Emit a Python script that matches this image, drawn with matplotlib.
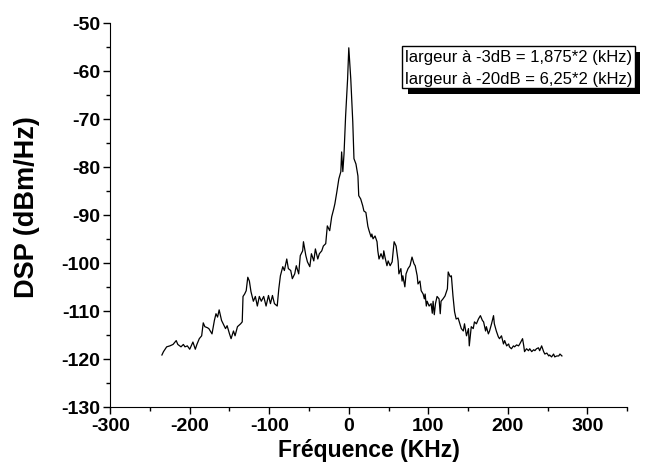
import matplotlib
matplotlib.use("Agg")
import matplotlib.pyplot as plt
import matplotlib.patheffects as pe
from matplotlib.ticker import MultipleLocator

plt.rcParams['font.family'] = ['Liberation Sans', 'DejaVu Sans']
plt.rcParams['axes.unicode_minus'] = False

# spectre (KHz, dBm/Hz)
freq = [-235, -233, -229, -225, -221, -217, -215, -211, -208, -206, -203, -200,
        -196, -193, -191, -188, -185, -183, -181, -178, -176, -172, -169, -167,
        -165, -163, -160, -158, -155, -153, -150, -148, -145, -143, -140, -136,
        -134, -133, -131, -129, -127, -125, -123, -120, -117.5, -115, -112.5, -110,
        -107, -104, -101, -98.5, -96, -93.5, -90, -88, -86, -83, -81, -78,
        -76, -73, -71, -68, -66, -63, -61, -58, -57, -54, -52, -49,
        -47, -44, -42, -39, -37, -34, -32, -29, -27, -24, -21.5, -19,
        -17.5, -15, -12.5, -10, -9, -7.5, -6, -4, -1.5, 0, 2.5, 5,
        6.5, 9, 11.5, 12.5, 15, 17.5, 19, 21.5, 24, 25.5, 28, 29,
        30.5, 33, 35.5, 36.5, 38, 40.5, 43, 44, 45.5, 48, 49.5, 52,
        54.5, 57, 59.5, 62, 63, 65.5, 67, 68, 70.5, 72, 74.5, 77,
        79.5, 82, 83.5, 86, 87, 89.5, 91, 93.5, 95, 96, 97.5, 98.5,
        101, 103.5, 105, 106, 107.5, 109, 111, 113.5, 115, 116, 118.5, 121,
        124, 125, 127.5, 129, 131, 133, 135, 137.5, 139, 141.5, 144, 145.5,
        148, 150.5, 151.5, 154, 156.5, 158, 160.5, 163, 165.5, 168, 169.5, 172,
        173, 175.5, 177, 179.5, 182, 183, 185.5, 188, 189.5, 192, 194.5, 196,
        198.5, 201, 202, 204.5, 207, 208.5, 211, 213.5, 215, 218.5, 220, 221,
        223.5, 226, 227.5, 230, 232.5, 234, 236, 238.5, 240, 242.5, 245, 246.5,
        249, 251.5, 252.5, 255, 257.5, 259, 261.5, 264, 265.5, 268]

dsp = [-119.2, -118.5, -117.5, -117.3, -117, -116.2, -117, -117.5, -117, -117.5, -117.3, -118,
       -116.5, -118, -117, -115.8, -115.2, -112.5, -113.3, -113.5, -113.7, -114.8, -112, -110.6,
       -111.3, -109.8, -112, -112.7, -113.7, -113.1, -114.8, -115.8, -114.2, -115.2, -113.3, -112.7,
       -112.3, -107, -106.5, -105.8, -103, -103.8, -106, -108, -107, -109, -107, -108,
       -107, -109, -106.8, -108.5, -106.8, -108.5, -109, -105.4, -102.7, -100.8, -101.6, -99.2,
       -101.2, -101.6, -103.3, -102.3, -100.6, -102.3, -98.5, -97.5, -95.6, -98.5, -99.8, -100.8,
       -98.1, -99.6, -97.1, -99.2, -98.1, -97.5, -96.5, -96, -92.3, -93.3, -90.4, -88.8,
       -87.7, -85.2, -82.5, -81, -76.9, -81, -77.3, -69.4, -61.7, -55.2, -61.7, -70.6,
       -78.3, -79.4, -81.9, -86, -86.7, -88.1, -89.2, -89.5, -92.4, -93.3, -94.6, -94,
       -95, -94.4, -95.6, -97.5, -99.2, -98.1, -99.2, -97.5, -98.8, -100.6, -99.6, -100.6,
       -99.8, -95.6, -96.5, -99.6, -102.3, -101.2, -103.8, -102.7, -105, -102.3, -101.2, -100.6,
       -98.8, -100.2, -100.6, -102.7, -104.4, -103.8, -105.8, -106.5, -107.5, -106.5, -109, -108,
       -109, -108.5, -110.5, -108, -110.8, -108.5, -107, -107.5, -110.6, -108, -107.5, -106.9,
       -105.4, -101.9, -102.9, -102.7, -106.9, -110.2, -111.7, -111.5, -112.3, -113.7, -114.2, -112.7,
       -115.2, -113.7, -117.3, -113.3, -113.7, -112.3, -112.7, -111.7, -111, -112, -112.3, -114.2,
       -113.3, -114.8, -114.2, -112.7, -111, -112.7, -114.2, -115.4, -115.8, -115.2, -116.9, -116.2,
       -117.3, -116.9, -117.5, -117.9, -117.3, -117.5, -117.1, -117.3, -116.9, -115.8, -117.3, -118.5,
       -117.9, -118.3, -117.9, -118.5, -118.1, -118.3, -117.9, -117.7, -118.3, -117.3, -118.5, -119,
       -118.8, -119.4, -119.2, -119.6, -119, -119.6, -119.4, -119.4, -119, -119.4]

legend_lines = ["largeur à -3dB = 1,875*2 (kHz)", "largeur à -20dB = 6,25*2 (kHz)"]

fig = plt.figure(figsize=(6.56, 4.77), dpi=100)
ax = fig.add_axes([0.168, 0.145, 0.788, 0.805])
ax.plot(freq, dsp, color='black', lw=0.9)

ax.set_xlim(-300, 350)
ax.set_ylim(-130, -50)
ax.xaxis.set_major_locator(MultipleLocator(100))
ax.xaxis.set_minor_locator(MultipleLocator(50))
ax.yaxis.set_major_locator(MultipleLocator(10))
ax.yaxis.set_minor_locator(MultipleLocator(5))
ax.spines['top'].set_visible(False)
ax.spines['right'].set_visible(False)
ax.tick_params(which='major', direction='out', length=5, width=1, labelsize=14, pad=2)
ax.tick_params(which='minor', direction='out', length=3, width=1)
for lab in ax.get_xticklabels() + ax.get_yticklabels():
    lab.set_fontweight('bold')

ax.set_xlabel('Fréquence (KHz)', fontsize=16.5, fontweight='bold', labelpad=3)
ax.set_ylabel('DSP (dBm/Hz)', fontsize=19.5, fontweight='bold', va='center')
ax.yaxis.set_label_coords(-0.16, 0.523)

t = fig.text(0.617, 0.857, "\n".join(legend_lines), fontsize=12, ha='left', va='center',
             linespacing=1.6,
             bbox=dict(boxstyle='square,pad=0.15', fc='white', ec='black', lw=1))
t.get_bbox_patch().set_path_effects([
    pe.SimplePatchShadow(offset=(4, -4), shadow_rgbFace='black', alpha=1.0),
    pe.Normal()])

fig.savefig('out.png', dpi=100)
